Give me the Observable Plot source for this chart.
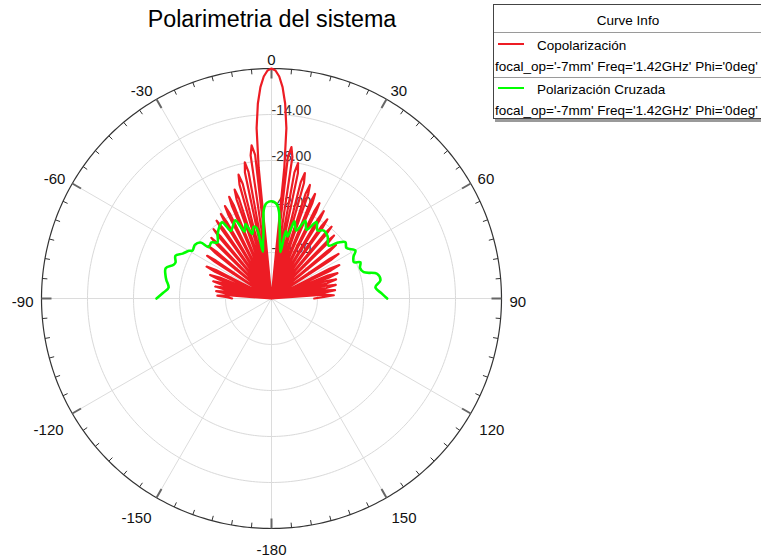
<!DOCTYPE html>
<html><head><meta charset="utf-8">
<script src="https://cdn.jsdelivr.net/npm/d3@7"></script>
<script src="https://cdn.jsdelivr.net/npm/@observablehq/plot@0.6"></script>
<style>
body{margin:0;background:#fff;font-family:"Liberation Sans",Arial,sans-serif;}
#wrap{position:relative;width:761px;height:559px;overflow:hidden;background:#fff;}
#chart{position:absolute;left:0;top:0;}
#title{position:absolute;left:122px;width:300px;top:8px;text-align:center;font-size:23.3px;line-height:1;color:#000;white-space:nowrap;}
#legend{position:absolute;left:493px;top:4px;width:272px;height:113px;border:1px solid #444;background:#fff;box-shadow:2px 3px 0 #9a9a9a;font-size:13.5px;color:#000;}
#legend .t{position:absolute;white-space:nowrap;line-height:1;}
#legend .sep{position:absolute;left:0;right:0;height:0;border-top:1px solid #9a9a9a;}
#legend .sw{position:absolute;height:2px;width:26px;}
</style></head>
<body>
<div id="wrap">
<div id="chart"></div>
<div id="title">Polarimetria del sistema</div>
<div id="legend"></div>
</div>
<script>
// ---- data (angle in degrees, value in dB; values below -70 dB fall on the centre) ----
const copolAngle = [
 -90,-88.2,-87,-85.8,-84.7, -83.7,-82.5,-81.3,-80.2, -79.2,-78,-76.8,-75.7, -74.7,-73.5,-72.3,-71.2,
 -70.1,-69,-67.9,-66.5, -64.7,-63.8,-62.9,-60,
 -57.1,-56.4,-55.7,-53.3, -51.0,-50.3,-49.6,-47.5,
 -45.45,-44.8,-44.15,-42.3, -40.5,-39.9,-39.3,-37.5, -35.8,-35.2,-34.6,-33, -31.5,-30.9,-30.3,-28.8,
 -27.3,-26.7,-26.1,-24.6, -23.2,-22.6,-22.0,-20.6, -19.4,-18.7,-18.0,-16.8, -15.7,-14.9,-14.1,-13,
 -11.9,-11.1,-10.3,-9.3, -8.3,-7.4,-6.5,-6.0,
 -5.6,-5,-4,-3,-2,-1,0,1,2,3,4,5,5.6,6.0,
 6.6,7.5,8.4,9.3, 10.3,11.1,11.9,13, 14.1,14.9,15.7,16.8, 18.0,18.7,19.4,20.6,
 22.0,22.6,23.2,24.6, 26.1,26.7,27.3,28.8, 30.3,30.9,31.5,33, 34.6,35.2,35.8,37.5,
 39.3,39.9,40.5,42.3, 44.15,44.8,45.45,47.5, 49.6,50.3,51.0,53.3, 55.7,56.4,57.1,60,
 62.9,63.8,64.7,66.5, 67.9,69,70.1,71.2, 72.3,73.5,74.7,75.7, 76.8,78,79.2,80.2,
 81.3,82.5,83.7,84.7, 85.8,87,88.2,90
];
const copolDb = [
 -58,-56.5,-53.5,-56.5,-80, -56,-53,-56,-80, -55.5,-52.5,-55.5,-80, -54.5,-51.5,-54.5,-80,
 -53,-50,-53,-80, -51,-48,-51,-80,
 -49.5,-46.5,-49.5,-80, -48,-45,-48,-80,
 -47,-44,-47,-80, -45.5,-42.5,-45.5,-80, -44,-41,-44,-80, -43,-40,-43,-80,
 -41.5,-38.5,-41.5,-80, -39.5,-36.5,-39.5,-80, -38,-35,-38,-80, -34,-31,-34,-80,
 -30.8,-27.8,-30.8,-80, -26,-23,-26,-80,
 -30,-18,-10.5,-5.6,-2.4,-0.6,0,-0.6,-2.4,-5.6,-10.5,-18,-30,-80,
 -26.5,-23.5,-26.5,-80, -31,-28,-31,-80, -33.5,-30.5,-33.5,-80, -36.5,-33.5,-36.5,-80,
 -38.5,-35.5,-38.5,-80, -40.5,-37.5,-40.5,-80, -42,-39,-42,-80, -43.5,-40.5,-43.5,-80,
 -44.5,-41.5,-44.5,-80, -46,-43,-46,-80, -47.5,-44.5,-47.5,-80, -48.5,-45.5,-48.5,-80,
 -50,-47,-50,-80, -51.5,-48.5,-51.5,-80, -52.5,-49.5,-52.5,-80, -53,-50,-53,-80,
 -53.5,-50.5,-53.5,-80, -54,-51,-54,-57
];
const crossAngle = [-90,-87,-84,-80,-77.8,-74,-71,-69.4,-66,-63.2,-60,-58.7,-55,-51.7,-50.7,-47,-44,-40,-36,-32.9,
 -31,-28,-24.8,-22,-19.2,-16.6,-14,-12,-10.5,-8.5,-7,-6,-5,-3.5,-1.5,0,1.5,3.5,5,6,
 7.5,9,11,12,14.5,16.5,20,23.5,27,30.5,34,37.6,42,47.2,50,52.7,56,60.3,63,66.2,
 67.8,71,74.1,76.8,80.6,83.8,87.6,90];
const crossDb = [-35,-37,-38.5,-37.5,-37,-36.5,-38.5,-38.8,-38,-39.7,-41,-41.9,-41.5,-42.5,-45.3,-45,-46.3,-44.5,-43,-42.4,
 -46,-45,-43.8,-48,-46,-49.5,-47.5,-48,-55.5,-52.5,-50,-46.5,-43,-41.2,-40.5,-40.4,-40.6,-41.5,-43.5,-46.5,
 -50.5,-53.5,-55.6,-49,-50.5,-45.5,-48,-44.2,-46.5,-43,-45,-43.9,-44.5,-46.3,-43.5,-41.7,-42.5,-40.6,-42,-42.6,
 -40.8,-41.5,-40.8,-37,-36.4,-38.2,-36.3,-34.8];
const ringDb = [-56, -42, -28, -14];
const ringLabels = ["-56.00", "-42.00", "-28.00", "-14.00"];
const angleLabels = [0, 30, 60, 90, 120, 150, -180, -150, -120, -90, -60, -30];
const seriesNames = ["Copolarización", "Polarización Cruzada"];
const seriesInfo = "focal_op='-7mm' Freq='1.42GHz' Phi='0deg'";
const seriesColors = ["#ED1C24", "#00FF00"];

// ---- geometry helpers ----
const minDb = -70, maxDb = 0, RPX = 230;
const toR = d => Math.max(0, (d - minDb) / (maxDb - minDb));
const X = (a, r) => r * Math.sin(a * Math.PI / 180);
const Y = (a, r) => r * Math.cos(a * Math.PI / 180);

const copol = copolAngle.map((a, i) => ({a, db: copolDb[i]}));
const cross = crossAngle.map((a, i) => ({a, db: crossDb[i]}));
const circleA = d3.range(0, 361, 1);
const rings = ringDb.flatMap(db => circleA.map(a => ({a, db})));
const spokes = d3.range(0, 360, 30);
const minor = d3.range(0, 360, 5).filter(a => a % 30 !== 0);

function angleText(a) {
  const s = Math.sin(a * Math.PI / 180), c = Math.cos(a * Math.PI / 180);
  const bottom = c < -0.01;
  const r = 1 + (bottom ? 10 : 8) / RPX;
  return Plot.text([a], {
    x: d => X(d, r), y: d => Y(d, r), text: d => String(d),
    textAnchor: s > 0.01 ? "start" : s < -0.01 ? "end" : "middle",
    lineAnchor: c > 0.01 ? "bottom" : bottom ? "top" : "middle",
    fontSize: 15, fill: "#111", dy: bottom ? 6 : 4
  });
}

const chart = Plot.plot({
  width: 761, height: 559, margin: 0,
  x: {domain: [-271 / RPX, 490 / RPX], axis: null},
  y: {domain: [-261 / RPX, 298 / RPX], axis: null},
  style: {fontFamily: "'Liberation Sans', Arial, sans-serif", background: "transparent", overflow: "visible"},
  marks: [
    Plot.line(rings, {x: d => X(d.a, toR(d.db)), y: d => Y(d.a, toR(d.db)), z: "db", stroke: "#d9d9d9", strokeWidth: 1}),
    Plot.link(spokes, {x1: 0, y1: 0, x2: a => X(a, 1), y2: a => Y(a, 1), stroke: "#dcdcdc", strokeWidth: 1}),
    Plot.line(circleA, {x: a => X(a, 1), y: a => Y(a, 1), stroke: "#333", strokeWidth: 1.2}),
    Plot.link(minor, {x1: a => X(a, 1), y1: a => Y(a, 1), x2: a => X(a, 1 - 5 / RPX), y2: a => Y(a, 1 - 5 / RPX), stroke: "#333", strokeWidth: 1}),
    Plot.link(spokes, {x1: a => X(a, 1), y1: a => Y(a, 1), x2: a => X(a, 1 - 10 / RPX), y2: a => Y(a, 1 - 10 / RPX), stroke: "#666", strokeWidth: 2}),
    Plot.text(ringDb, {x: 0, y: d => toR(d), text: (d, i) => ringLabels[i], textAnchor: "start", lineAnchor: "middle", dy: -4, fontSize: 14, fill: "#333"}),
    Plot.line(copol, {x: d => X(d.a, toR(d.db)), y: d => Y(d.a, toR(d.db)), stroke: seriesColors[0], strokeWidth: 2.2, curve: "linear", strokeLinejoin: "round"}),
    Plot.line(cross, {x: d => X(d.a, toR(d.db)), y: d => Y(d.a, toR(d.db)), stroke: seriesColors[1], strokeWidth: 2.6, curve: "catmull-rom", strokeLinejoin: "round"}),
    ...angleLabels.map(angleText)
  ]
});
document.getElementById("chart").appendChild(chart);

// ---- legend ----
const lg = document.getElementById("legend");
function add(html) { lg.insertAdjacentHTML("beforeend", html); }
add(`<div class="t" style="left:0;width:268px;text-align:center;top:9px;">Curve Info</div>`);
add(`<div class="sep" style="top:27px;"></div>`);
seriesNames.forEach((n, i) => {
  const y0 = 28 + i * 44;
  add(`<div class="sw" style="left:4px;top:${y0 + 10}px;background:${seriesColors[i]};"></div>`);
  add(`<div class="t" style="left:43px;top:${y0 + 6}px;">${n}</div>`);
  add(`<div class="t" style="left:1px;top:${y0 + 27}px;">${seriesInfo}</div>`);
  if (i === 0) add(`<div class="sep" style="top:${y0 + 44}px;"></div>`);
});
</script>
</body></html>
